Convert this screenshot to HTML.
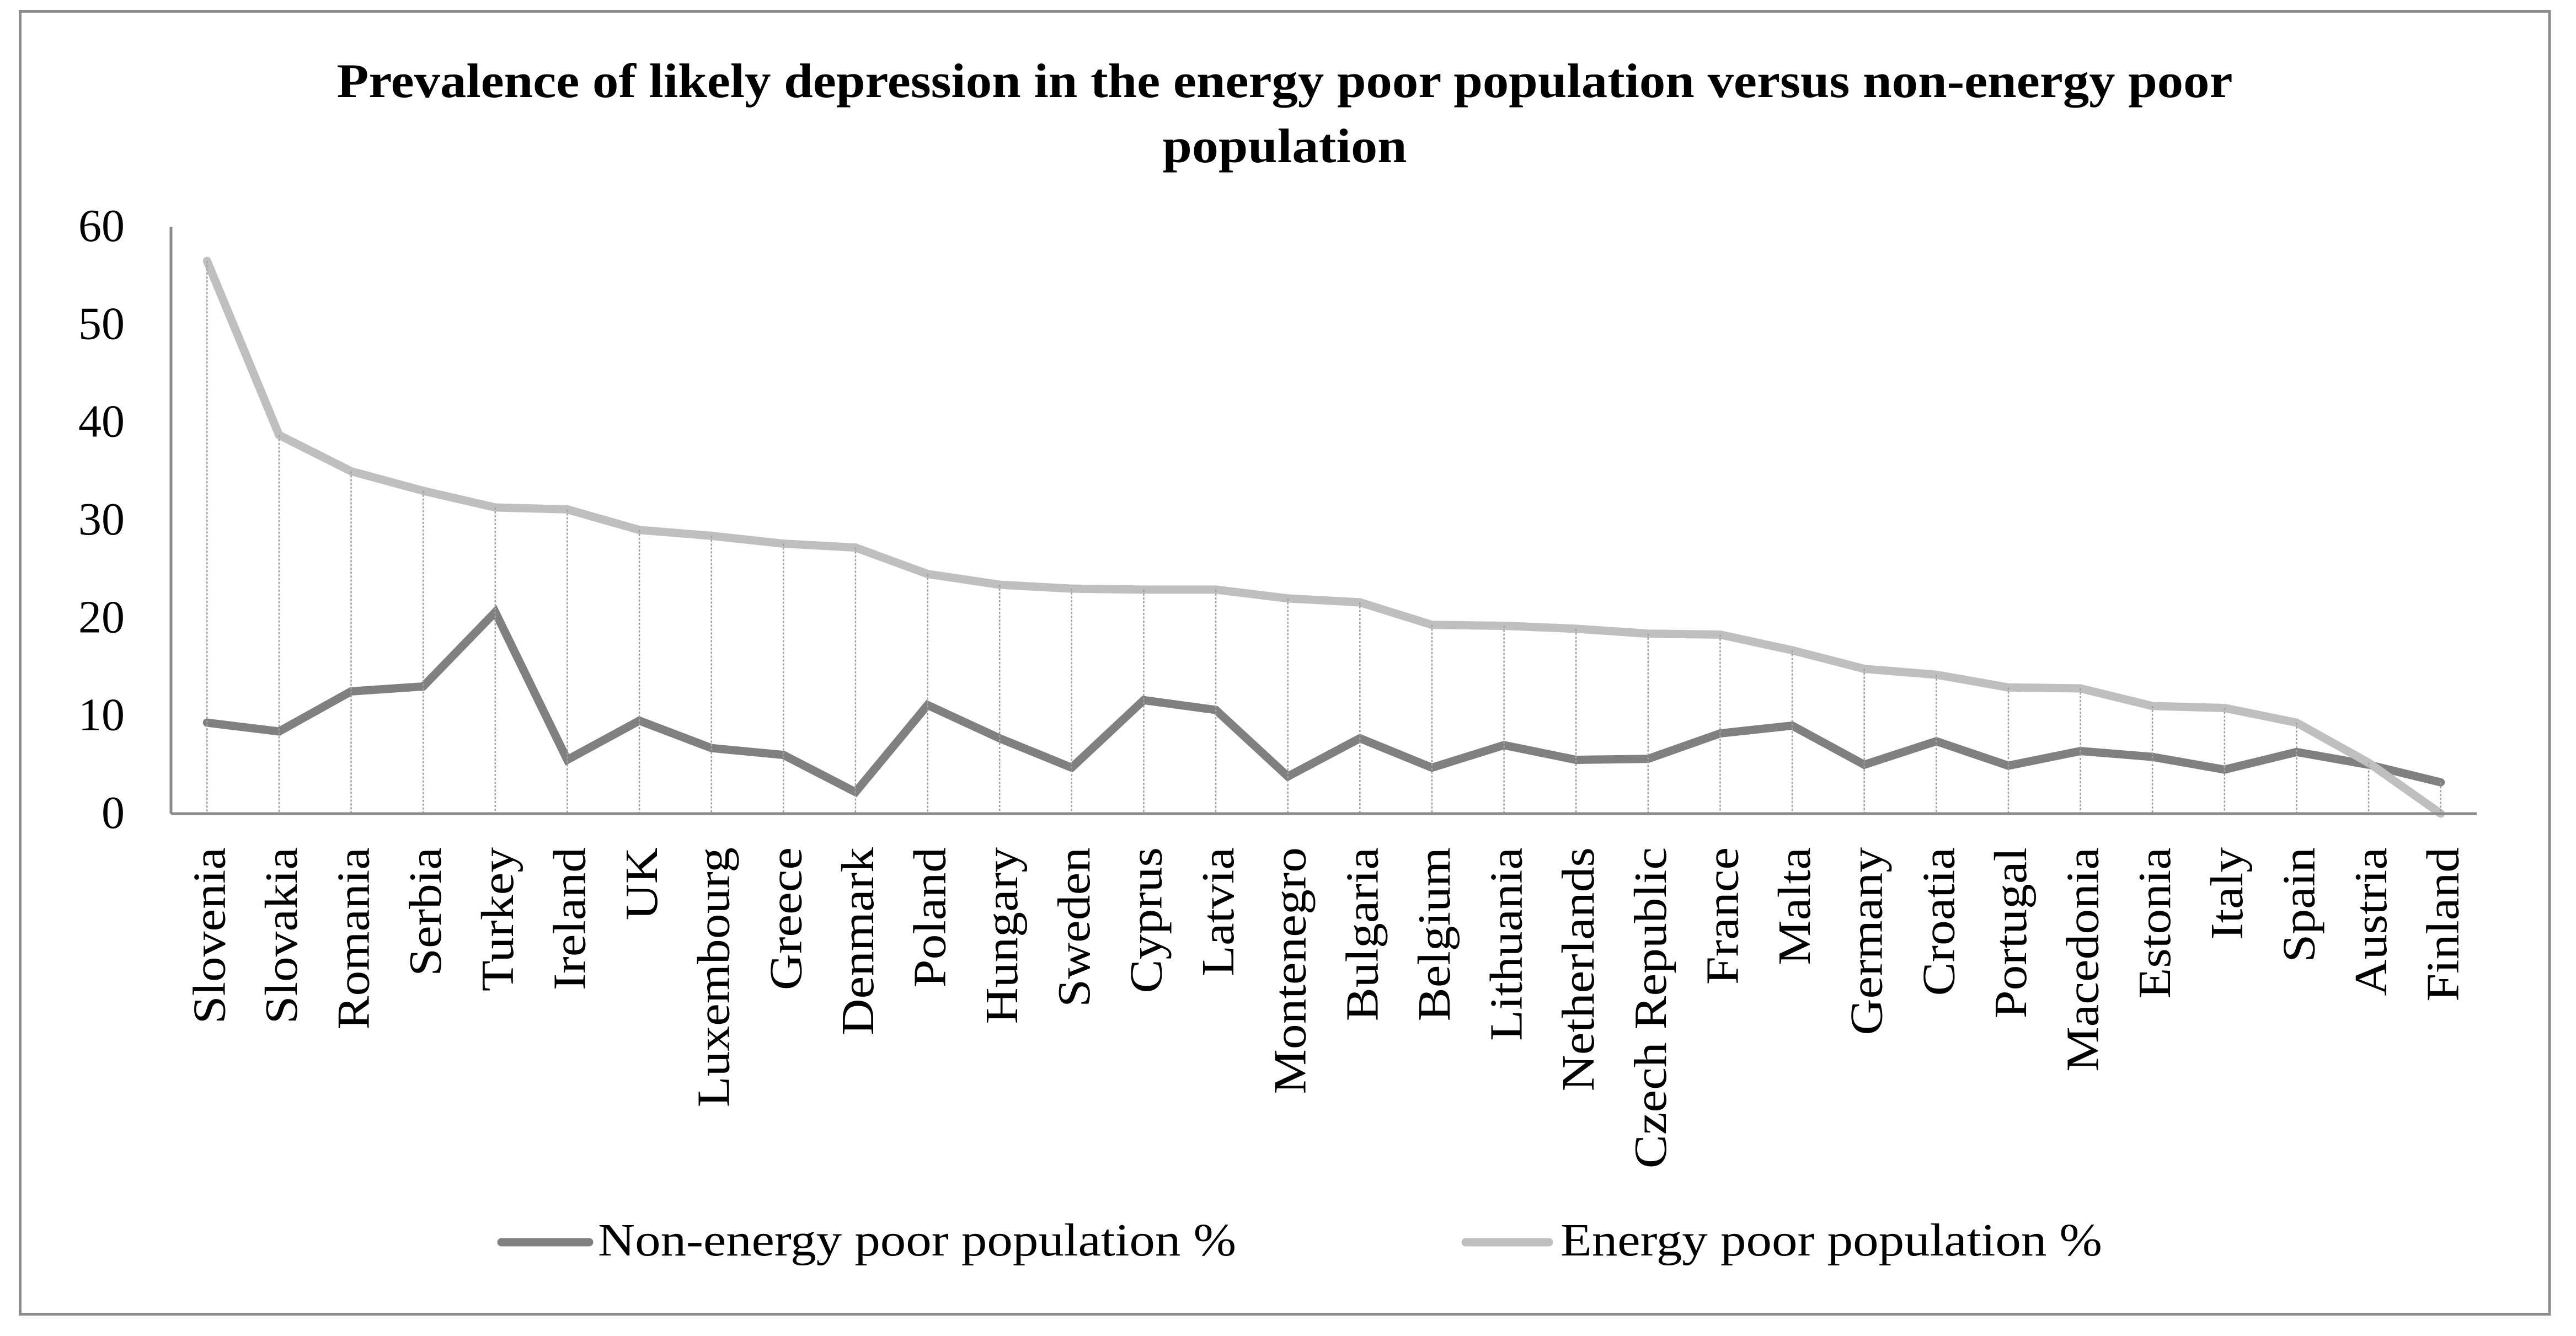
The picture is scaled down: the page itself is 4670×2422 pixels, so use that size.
<!DOCTYPE html>
<html lang="en">
<head>
<meta charset="utf-8">
<title>Prevalence of likely depression</title>
<style>
html,body{margin:0;padding:0;background:#fff;width:4670px;height:2422px;overflow:hidden}
svg{display:block}
text{font-family:"Liberation Serif",serif;fill:#000}
</style>
</head>
<body>
<svg id="chart" xmlns="http://www.w3.org/2000/svg" width="4670" height="2422" viewBox="0 0 4670 2422">
  <rect x="0" y="0" width="4670" height="2422" fill="#fff"/>
  <rect x="36.5" y="20.5" width="4585.5" height="2362" fill="#fff" stroke="#8c8c8c" stroke-width="5"/>
  <text x="2329" y="176" text-anchor="middle" font-size="88" font-weight="bold" textLength="3437" lengthAdjust="spacingAndGlyphs">Prevalence of likely depression in the energy poor population versus non-energy poor</text>
  <text x="2329" y="294" text-anchor="middle" font-size="88" font-weight="bold" textLength="443" lengthAdjust="spacingAndGlyphs">population</text>
  <g id="gridlayer"></g>
  <g id="serieslayer"></g>
  <g id="droplayer"></g>
  <g id="axislayer"></g>
  <g>
    <line x1="909" y1="2252" x2="1068" y2="2252" stroke="#808080" stroke-width="15" stroke-linecap="round"/>
    <text x="1084" y="2276" font-size="84" textLength="1157" lengthAdjust="spacingAndGlyphs">Non-energy poor population %</text>
    <line x1="2672" y1="2252" x2="2823" y2="2252" stroke="#bfbfbf" stroke-width="15" stroke-linecap="round" transform="translate(-15,0)"/>
    <text x="2829" y="2276" font-size="84" textLength="982" lengthAdjust="spacingAndGlyphs">Energy poor population %</text>
  </g>
</svg>
<script>
const categories = ["Slovenia","Slovakia","Romania","Serbia","Turkey","Ireland","UK","Luxembourg","Greece","Denmark","Poland","Hungary","Sweden","Cyprus","Latvia","Montenegro","Bulgaria","Belgium","Lithuania","Netherlands","Czech Republic","France","Malta","Germany","Croatia","Portugal","Macedonia","Estonia","Italy","Spain","Austria","Finland"];
const nonEnergyPoor = [9.3,8.4,12.5,13,20.6,5.5,9.5,6.7,6,2.2,11.1,7.7,4.7,11.6,10.6,3.8,7.7,4.7,7,5.5,5.6,8.2,9,5,7.4,4.9,6.4,5.8,4.5,6.3,5,3.2];
const energyPoor = [56.5,38.7,35,33,31.3,31.1,29,28.4,27.6,27.2,24.5,23.4,23,22.9,22.9,22,21.6,19.3,19.2,18.9,18.4,18.3,16.7,14.8,14.2,12.9,12.8,11,10.8,9.3,5.2,0];
const yTicks = [0,10,20,30,40,50,60];

const NS = "http://www.w3.org/2000/svg";
const plotLeft = 310, plotRight = 4490, plotTop = 411, plotBottom = 1475;
const yMax = 60;
function xPos(i){ return plotLeft + (i + 0.5) * (plotRight - plotLeft) / categories.length; }
function yPos(v){ return plotBottom - v / yMax * (plotBottom - plotTop); }
function make(tag, parent){ const el = document.createElementNS(NS, tag); parent.appendChild(el); return el; }

const seriesLayer = document.getElementById("serieslayer");
const dropLayer = document.getElementById("droplayer");
const axisLayer = document.getElementById("axislayer");

const yAxis = make("line", axisLayer);


yAxis.setAttribute("x1", plotLeft); yAxis.setAttribute("x2", plotLeft);
yAxis.setAttribute("y1", plotTop); yAxis.setAttribute("y2", plotBottom);
yAxis.setAttribute("stroke", "#8c8c8c"); yAxis.setAttribute("stroke-width", "5");

const xAxis = make("line", axisLayer);


xAxis.setAttribute("x1", plotLeft); xAxis.setAttribute("x2", plotRight);
xAxis.setAttribute("y1", plotBottom); xAxis.setAttribute("y2", plotBottom);
xAxis.setAttribute("stroke", "#8c8c8c"); xAxis.setAttribute("stroke-width", "5");

yTicks.forEach(function(t){
  const label = make("text", axisLayer);
  
  
  label.setAttribute("x", 226);
  label.setAttribute("y", yPos(t) + 26);
  label.setAttribute("text-anchor", "end");
  label.setAttribute("font-size", "84");
  label.textContent = t;
});

categories.forEach(function(c, i){
  const label = make("text", axisLayer);
  
  
  label.setAttribute("text-anchor", "end");
  label.setAttribute("font-size", "84");
  label.setAttribute("transform", "translate(" + (xPos(i) + 32) + ",1536) rotate(-90) scale(1.09,1)");
  label.textContent = c;
});

function drawSeries(values, color, name){
  const line = make("polyline", seriesLayer);
  
  
  line.setAttribute("points", values.map(function(v, i){ return xPos(i) + "," + yPos(v); }).join(" "));
  line.setAttribute("fill", "none");
  line.setAttribute("stroke", color);
  line.setAttribute("stroke-width", "15");
  line.setAttribute("stroke-linecap", "round");
  line.setAttribute("stroke-linejoin", "miter");
}
drawSeries(nonEnergyPoor, "#808080", "series-non-energy-poor");
drawSeries(energyPoor, "#bfbfbf", "series-energy-poor");

categories.forEach(function(c, i){
  const drop = make("line", dropLayer);
  
  
  drop.setAttribute("x1", xPos(i)); drop.setAttribute("x2", xPos(i));
  drop.setAttribute("y1", yPos(Math.max(energyPoor[i], nonEnergyPoor[i])));
  drop.setAttribute("y2", plotBottom);
  drop.setAttribute("stroke", "#a0a0a0");
  drop.setAttribute("stroke-width", "2.5");
  drop.setAttribute("stroke-dasharray", "4 3");
});
</script>
</body>
</html>
